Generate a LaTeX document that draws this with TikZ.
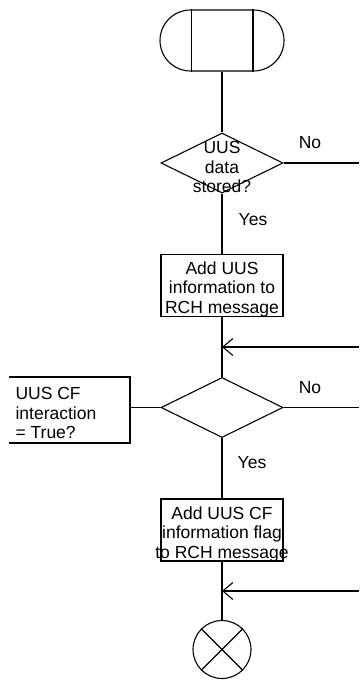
\documentclass[tikz,border=0pt]{standalone}
\usepackage{fontspec}
\setmainfont{Liberation Sans}
\usetikzlibrary{arrows.meta, shapes.geometric, shapes.misc, calc}

\begin{document}
\begin{tikzpicture}[x=1pt, y=-1pt, line width=1.1pt,
	every node/.style={font=\fontsize{17.5}{19.5}\selectfont},
	term/.style={draw, rounded rectangle, minimum width=124pt, minimum height=61pt, inner sep=0pt},
	decision/.style={draw, diamond, minimum width=122pt, minimum height=60pt, inner sep=0pt},
	taskbox/.style={draw, rectangle, minimum width=122pt, minimum height=62pt, inner sep=0pt},
	txt/.style={align=center, inner sep=0pt},
	barb/.style={-{Straight Barb[length=10pt, width=17pt]}}]
	\useasboundingbox (0,0) rectangle (359,684);
	% main column
	\node[term] (start) at (222,40.5) {};
	\draw ($(start.north)+(-30.5,0)$) -- ($(start.south)+(-30.5,0)$);
	\draw ($(start.north)+(31,0)$) -- ($(start.south)+(31,0)$);
	\node[decision] (q1) at (222,163) {};
	\node[txt] (q1txt) at (222,167) {UUS\\data\\stored?};
	\node[taskbox] (add1) at (222,285.5) {};
	\node[txt] (add1txt) at (222,289) {Add UUS\\information to\\RCH message};
	\node[decision] (q2) at (222,407.5) {};
	\node[taskbox] (add2) at (222,530) {};
	\node[txt] (add2txt) at (222,534) {Add UUS CF\\information flag\\to RCH message};
	\node[draw, circle, minimum size=58pt, inner sep=0pt] (stop) at (222,649.5) {};
	\draw (stop.north west) -- (stop.south east);
	\draw (stop.north east) -- (stop.south west);
	\draw (start.south) -- (q1.north);
	\draw (q1.south) -- (add1.north);
	\draw (add1.south) -- (q2.north);
	\draw (q2.south) -- (add2.north);
	\draw (add2.south) -- (stop.north);
	% comment
	\draw (9,377) -- (130,377) -- (130,443) -- (9,443);
	\coordinate (cf) at (130,407.5);
	\node[align=left, anchor=west, inner sep=0pt] (cftxt) at (15,413) {UUS CF\\interaction\\= True?};
	\draw (cf) -- (q2.west);
	% branches
	\coordinate (exit1) at (359,163);
	\coordinate (exit2) at (359,407.5);
	\coordinate (loop1) at (359,347);
	\coordinate (loop2) at (359,591);
	\draw (q1.east) -- (exit1);
	\draw (q2.east) -- (exit2);
	\draw [barb] (loop1) -- (loop1 -| add1.south);
	\draw [barb] (loop2) -- (loop2 -| stop.north);
	\node (no1) at (310,143) {No};
	\node (yes1) at (253,220) {Yes};
	\node (no2) at (310,388) {No};
	\node (yes2) at (252,463) {Yes};
\end{tikzpicture}
\end{document}
